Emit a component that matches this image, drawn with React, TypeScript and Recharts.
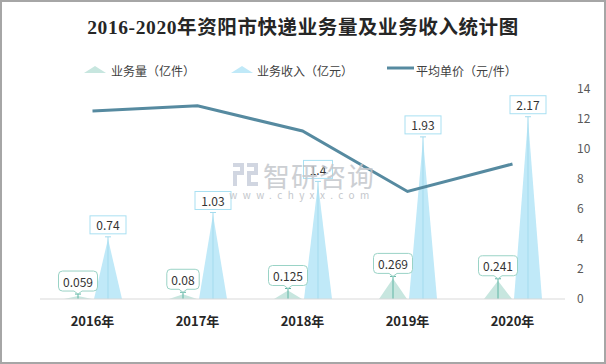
import React from 'react';
import { ComposedChart, Bar, Line, XAxis, YAxis } from 'recharts';

const years = ['2016年', '2017年', '2018年', '2019年', '2020年'];
const volume = [0.059, 0.08, 0.125, 0.269, 0.241];
const revenue = [0.74, 1.03, 1.4, 1.93, 2.17];
const price = [12.54, 12.88, 11.2, 7.17, 9.0];
const rightTicks = [0, 2, 4, 6, 8, 10, 12, 14];

const data = years.map((y, i) => ({ year: y, volume: volume[i], revenue: revenue[i], price: price[i] }));

const GREEN_FILL = '#c7e6df';
const GREEN_LINE = '#5fb5a4';
const BLUE_FILL = '#c0e9f8';
const BLUE_LINE = '#a3dbee';
const LINE_COLOR = '#568aa0';
const FONT = '"Noto Sans CJK SC", "Noto Sans", sans-serif';

const makeSpike = (fill: string, stroke: string) => (props: any) => {
  const { x, y, width, height } = props;
  const base = y + height;
  const cx = x + width / 2;
  return (
    <g>
      <path d={`M${x},${base} L${cx},${y + 2} L${x + width},${base} Z`} fill={fill} />
      <line x1={cx} y1={base} x2={cx} y2={y} stroke={stroke} strokeWidth={1} />
      <line x1={cx - 3} y1={y} x2={cx + 3} y2={y} stroke={stroke} strokeWidth={1} />
    </g>
  );
};

const VolumeLabel = (props: any) => {
  const { x, y, width, value } = props;
  const cx = x + width / 2;
  const text = String(value);
  const w = text.length * 6.6 + 6;
  const h = 20;
  const bottom = y - 3;
  const left = cx - w / 2;
  return (
    <g>
      <path
        d={`M${left + 4},${bottom - h} L${left + w - 4},${bottom - h} Q${left + w},${bottom - h} ${left + w},${bottom - h + 4} L${left + w},${bottom - 4} Q${left + w},${bottom} ${left + w - 4},${bottom} L${cx + 4},${bottom} L${cx},${y} L${cx - 4},${bottom} L${left + 4},${bottom} Q${left},${bottom} ${left},${bottom - 4} L${left},${bottom - h + 4} Q${left},${bottom - h} ${left + 4},${bottom - h} Z`}
        fill="#ffffff"
        stroke="#9ad3c6"
        strokeWidth={1}
      />
      <text x={cx} y={bottom - h / 2} textAnchor="middle" dominantBaseline="central" fontSize={12} fill="#333" fontFamily={FONT}>
        {text}
      </text>
    </g>
  );
};

const RevenueLabel = (props: any) => {
  const { x, y, width, value } = props;
  const cx = x + width / 2;
  const text = String(value);
  const w = text.length * 7 + 8;
  const h = 18;
  const bottom = y - 3;
  return (
    <g>
      <rect x={cx - w / 2} y={bottom - h} width={w} height={h} fill="#ffffff" stroke="#a9e0f2" strokeWidth={1} />
      <text x={cx} y={bottom - h / 2} textAnchor="middle" dominantBaseline="central" fontSize={12} fill="#333" fontFamily={FONT}>
        {text}
      </text>
    </g>
  );
};

const Legend = () => (
  <svg width={606} height={20} style={{ position: 'absolute', left: 0, top: 60 }}>
    <path d="M84,13 L95,6 L106,13 Z" fill={GREEN_FILL} />
    <text x={111} y={10} dominantBaseline="central" fontSize={12} fill="#404040" fontFamily={FONT}>业务量（亿件）</text>
    <path d="M231,13 L242,6 L253,13 Z" fill={BLUE_FILL} />
    <text x={257} y={10} dominantBaseline="central" fontSize={12} fill="#404040" fontFamily={FONT}>业务收入（亿元）</text>
    <line x1={387} y1={8} x2={414} y2={8} stroke={LINE_COLOR} strokeWidth={3} />
    <text x={416} y={10} dominantBaseline="central" fontSize={12} fill="#404040" fontFamily={FONT}>平均单价（元/件）</text>
  </svg>
);

const Watermark = () => (
  <svg width={606} height={364} style={{ position: 'absolute', left: 0, top: 0, pointerEvents: 'none' }}>
    <g fill="#c9cfdc" opacity={0.85}>
      <rect x={233} y={163} width={11} height={4} />
      <rect x={240} y={163} width={4} height={12} />
      <rect x={233} y={171} width={11} height={4} />
      <rect x={233} y={171} width={4} height={15} />
      <rect x={247} y={163} width={11} height={4} />
      <rect x={254} y={163} width={4} height={12} />
      <rect x={247} y={171} width={11} height={4} />
      <rect x={247} y={171} width={4} height={15} />
      <rect x={247} y={182} width={11} height={4} />
    </g>
    <text x={319} y={175} textAnchor="middle" dominantBaseline="central" fontSize={27} fill="#c4c7cc" opacity={0.85} fontFamily={FONT} letterSpacing={1}>
      智研咨询
    </text>
    <text x={302} y={194} textAnchor="middle" dominantBaseline="central" fontSize={10} fill="#c4c7cc" fontFamily={FONT} letterSpacing={5.4}>
      www.chyxx.com
    </text>
  </svg>
);

export default function App() {
  return (
    <div
      style={{
        position: 'absolute',
        left: 0,
        top: 0,
        width: 606,
        height: 364,
        background: '#ffffff',
        boxSizing: 'border-box',
        overflow: 'hidden',
      }}
    >
      <div
        style={{
          position: 'absolute',
          left: 0,
          top: 0,
          width: 606,
          textAlign: 'center',
          fontFamily: '"Liberation Serif", "Noto Sans CJK SC", serif',
          fontWeight: 'bold',
          fontSize: 19.5,
          lineHeight: '26px',
          paddingTop: 15,
          color: '#262626',
          letterSpacing: 0.6,
        }}
      >
        2016-2020年资阳市快递业务量及业务收入统计图
      </div>
      <Legend />
      <div style={{ position: 'absolute', left: 0, top: 0 }}>
        <ComposedChart
          width={606}
          height={364}
          data={data}
          margin={{ top: 89, right: 0, left: 40, bottom: 0 }}
          barSize={28}
          barGap={2}
        >
          <XAxis
            dataKey="year"
            height={65}
            tickLine={false}
            axisLine={{ stroke: '#d9d9d9' }}
            tickMargin={12}
            tick={{ fontSize: 13, fontWeight: 'bold', fill: '#262626', fontFamily: FONT }}
            interval={0}
          />
          <YAxis yAxisId="left" hide domain={[0, 2.5]} />
          <YAxis
            yAxisId="right"
            orientation="right"
            width={41}
            domain={[0, 14]}
            ticks={rightTicks}
            tickLine={false}
            axisLine={false}
            tickMargin={6}
            tick={{ fontSize: 12, fill: '#595959', fontFamily: FONT }}
          />
          <Bar
            yAxisId="left"
            dataKey="volume"
            isAnimationActive={false}
            shape={makeSpike(GREEN_FILL, GREEN_LINE)}
            label={<VolumeLabel />}
          />
          <Bar
            yAxisId="left"
            dataKey="revenue"
            isAnimationActive={false}
            shape={makeSpike(BLUE_FILL, BLUE_LINE)}
            label={<RevenueLabel />}
          />
          <Line
            yAxisId="right"
            dataKey="price"
            stroke={LINE_COLOR}
            strokeWidth={3}
            dot={false}
            isAnimationActive={false}
          />
        </ComposedChart>
      </div>
      <Watermark />
      <div
        style={{
          position: 'absolute',
          left: 0,
          top: 0,
          width: 606,
          height: 364,
          border: '2px solid #a6a6a6',
          boxSizing: 'border-box',
          pointerEvents: 'none',
        }}
      />
    </div>
  );
}
